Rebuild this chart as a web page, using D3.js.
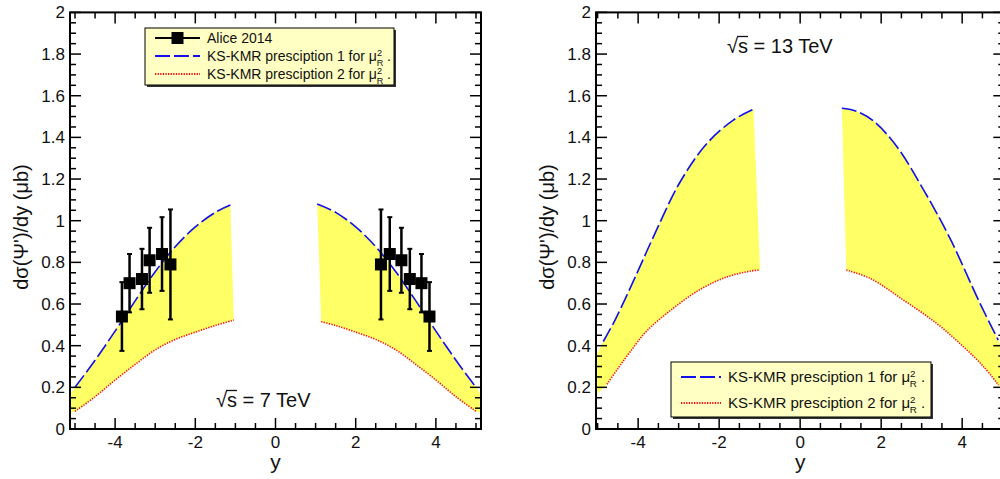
<html>
<head>
<script src="https://d3js.org/d3.v7.min.js"></script>
<style>
  body { margin: 0; background: #fff; }
  text { font-family: "Liberation Sans", Arial, Helvetica, sans-serif; fill: #111; }
</style>
</head>
<body>
<svg id="chart" width="1000" height="479"></svg>
<script>
// ---- data ----
// sqrt(s) = 7 TeV
const up7L_x = [-5.125, -5, -4.5, -4, -3.5, -3, -2.5, -2, -1.5, -1.125];
const up7L_y = [0.165, 0.2, 0.33, 0.47, 0.615, 0.755, 0.875, 0.97, 1.04, 1.075];
const lo7L_x = [-5.125, -5, -4.5, -4, -3.5, -3, -2.5, -2, -1.5, -1.04];
const lo7L_y = [0.075, 0.085, 0.155, 0.235, 0.31, 0.38, 0.43, 0.465, 0.497, 0.523];
const up7R_x = [1.04, 1.5, 2, 2.5, 3, 3.5, 4, 4.5, 5, 5.125];
const up7R_y = [1.08, 1.04, 0.97, 0.875, 0.755, 0.615, 0.47, 0.33, 0.2, 0.165];
const lo7R_x = [1.14, 1.5, 2, 2.5, 3, 3.5, 4, 4.5, 5, 5.125];
const lo7R_y = [0.515, 0.497, 0.465, 0.43, 0.38, 0.31, 0.235, 0.155, 0.085, 0.078];

// Alice 2014
const alice_x = [-3.83, -3.64, -3.33, -3.14, -2.83, -2.62, 2.63, 2.85, 3.14, 3.35, 3.64, 3.84];
const alice_y = [0.54, 0.70, 0.72, 0.81, 0.84, 0.79, 0.79, 0.84, 0.81, 0.72, 0.70, 0.54];
const alice_err = [0.165, 0.14, 0.145, 0.156, 0.177, 0.264, 0.264, 0.177, 0.156, 0.145, 0.14, 0.165];

// sqrt(s) = 13 TeV
const up13L_x = [-5.04, -4.86, -4.57, -4.03, -3.66, -2.96, -2.3, -1.65, -1.15];
const up13L_y = [0.347, 0.42, 0.523, 0.747, 0.907, 1.187, 1.371, 1.483, 1.535];
const lo13L_x = [-5.04, -4.77, -4.5, -4.2, -3.79, -3.13, -2.47, -1.81, -1.23, -0.99];
const lo13L_y = [0.165, 0.215, 0.29, 0.37, 0.47, 0.58, 0.67, 0.73, 0.758, 0.763];
const up13R_x = [1.03, 1.35, 1.8, 2.39, 3.05, 3.70, 4.44, 4.89, 5.04];
const up13R_y = [1.54, 1.528, 1.48, 1.355, 1.147, 0.915, 0.603, 0.427, 0.36];
const lo13R_x = [1.14, 1.73, 2.55, 3.37, 4.03, 4.53, 4.9, 5.04];
const lo13R_y = [0.763, 0.723, 0.619, 0.507, 0.395, 0.299, 0.211, 0.17];

const xTicks = [-4, -2, 0, 2, 4];
const xTickLabels = ["-4", "-2", "0", "2", "4"];
const yTicks = [0, 0.2, 0.4, 0.6, 0.8, 1, 1.2, 1.4, 1.6, 1.8, 2];
const yTickLabels = ["0", "0.2", "0.4", "0.6", "0.8", "1", "1.2", "1.4", "1.6", "1.8", "2"];

const legendLabels = ["Alice 2014", "KS-KMR presciption 1 for ", "KS-KMR presciption 2 for "];

// ---- drawing ----
const svg = d3.select("#chart");
const zip = (xs, ys) => xs.map((v, i) => [v, ys[i]]);

function panel(opt) {
  const x = d3.scaleLinear().domain(opt.xdom).range(opt.xrange);
  const y = d3.scaleLinear().domain([0, 2]).range([429, 12.4]);
  const g = svg.append("g");
  const x0 = opt.xrange[0], x1 = opt.xrange[1];

  const line = d3.line().x(d => x(d[0])).y(d => y(d[1])).curve(d3.curveCatmullRom.alpha(0.5));

  opt.bands.forEach(b => {
    const up = zip(b.ux, b.uy), lo = zip(b.lx, b.ly);
    g.append("path")
      .attr("d", line(up) + "L" + line(lo.slice().reverse()).slice(1) + "Z")
      .attr("fill", "#ffff66").attr("stroke", "none");
    g.append("path").attr("d", line(up.filter(d => Math.abs(d[0]) <= 5)))
      .attr("fill", "none").attr("stroke", "#1010ee").attr("stroke-width", 1.6)
      .attr("stroke-dasharray", "15,4");
    g.append("path").attr("d", line(lo.filter(d => Math.abs(d[0]) <= 5.02)))
      .attr("fill", "none").attr("stroke", "#ee1111").attr("stroke-width", 1.6)
      .attr("stroke-dasharray", "1.3,1.3");
  });

  // frame
  g.append("rect").attr("x", x0).attr("y", y(2)).attr("width", x1 - x0).attr("height", y(0) - y(2))
    .attr("fill", "none").attr("stroke", "#000").attr("stroke-width", 2);

  const tk = g.append("g").attr("stroke", "#000").attr("stroke-width", 1.5);
  d3.range(-5, 5.01, 0.5).forEach(v => {
    const L = xTicks.includes(v) ? 11 : 6;
    tk.append("line").attr("x1", x(v)).attr("x2", x(v)).attr("y1", y(0)).attr("y2", y(0) - L);
    tk.append("line").attr("x1", x(v)).attr("x2", x(v)).attr("y1", y(2)).attr("y2", y(2) + L);
  });
  d3.range(0, 2.001, 0.05).forEach(v => {
    const major = Math.abs(v * 5 - Math.round(v * 5)) < 1e-6;
    const L = major ? 11 : 6;
    tk.append("line").attr("y1", y(v)).attr("y2", y(v)).attr("x1", x0).attr("x2", x0 + L);
    tk.append("line").attr("y1", y(v)).attr("y2", y(v)).attr("x1", x1).attr("x2", x1 - L);
  });

  xTicks.forEach((v, i) => {
    g.append("text").attr("x", x(v)).attr("y", 448).attr("text-anchor", "middle")
      .attr("font-size", 17).text(xTickLabels[i]);
  });
  yTicks.forEach((v, i) => {
    g.append("text").attr("x", x0 - 5).attr("y", y(v) + 6).attr("text-anchor", "end")
      .attr("font-size", 17).text(yTickLabels[i]);
  });

  g.append("text").attr("x", x(0)).attr("y", 469).attr("text-anchor", "middle")
    .attr("font-size", 21).text("y");
  g.append("text").attr("transform", `translate(${x0 - 42},227) rotate(-90)`)
    .attr("text-anchor", "middle").attr("font-size", 20).text("dσ(Ψ')/dy (μb)");

  // sqrt(s) label
  const sq = g.append("text").attr("x", opt.sqrtPos[0]).attr("y", opt.sqrtPos[1])
    .attr("font-size", 20);
  sq.append("tspan").text("√");
  sq.append("tspan").text("s");
  sq.append("tspan").text(" = " + opt.energy);
  const rw = sq.node().getSubStringLength(0, 1);
  const sw = sq.node().getSubStringLength(1, 1);
  g.append("line").attr("x1", opt.sqrtPos[0] + rw - 1).attr("x2", opt.sqrtPos[0] + rw + sw)
    .attr("y1", opt.sqrtPos[1] - 16.5).attr("y2", opt.sqrtPos[1] - 16.5)
    .attr("stroke", "#111").attr("stroke-width", 1.3);

  return { g, x, y };
}

function muR(t, fs) {
  t.append("tspan").text("μ");
  t.append("tspan").attr("font-size", fs * 0.65).attr("dy", -5).text("2");
  t.append("tspan").attr("font-size", fs * 0.65).attr("dx", -fs * 0.38).attr("dy", 10).text("R");
  t.append("tspan").attr("dy", -5).text(" .");
}

function legend(g, box, rows, fs, items) {
  g.append("rect").attr("x", box[0] + 2).attr("y", box[1] + 2).attr("width", box[2]).attr("height", box[3])
    .attr("fill", "#333");
  g.append("rect").attr("x", box[0]).attr("y", box[1]).attr("width", box[2]).attr("height", box[3])
    .attr("fill", "#ffffc4").attr("stroke", "#000").attr("stroke-width", 1);
  items.forEach((it, i) => {
    const yy = rows[i];
    const ln = g.append("line").attr("x1", box[0] + 10).attr("x2", box[0] + it.len)
      .attr("y1", yy).attr("y2", yy).attr("stroke-width", it.w);
    if (it.kind === "alice") {
      ln.attr("stroke", "#000");
      g.append("rect").attr("x", box[0] + 10 + (it.len - 10) / 2 - 6).attr("y", yy - 6)
        .attr("width", 12).attr("height", 12).attr("fill", "#000");
    } else if (it.kind === "p1") {
      ln.attr("stroke", "#1010ee").attr("stroke-dasharray", "15,4");
    } else {
      ln.attr("stroke", "#ee1111").attr("stroke-dasharray", "1.3,1.3");
    }
    const t = g.append("text").attr("x", box[0] + it.len + 7).attr("y", yy + 5).attr("font-size", fs);
    t.append("tspan").text(it.label);
    if (it.kind !== "alice") muR(t, fs);
  });
}

// left panel: 7 TeV
const p1 = panel({
  xdom: [-5.125, 5.125], xrange: [70, 481], energy: "7 TeV", sqrtPos: [216, 407],
  bands: [
    { ux: up7L_x, uy: up7L_y, lx: lo7L_x, ly: lo7L_y },
    { ux: up7R_x, uy: up7R_y, lx: lo7R_x, ly: lo7R_y }
  ]
});

// Alice points
const pts = p1.g.append("g");
alice_x.forEach((v, i) => {
  const cx = p1.x(v), top = p1.y(alice_y[i] + alice_err[i]), bot = p1.y(alice_y[i] - alice_err[i]);
  pts.append("line").attr("x1", cx).attr("x2", cx).attr("y1", top).attr("y2", bot)
    .attr("stroke", "#000").attr("stroke-width", 2.5);
  [top, bot].forEach(yy => pts.append("line").attr("x1", cx - 2.5).attr("x2", cx + 2.5)
    .attr("y1", yy).attr("y2", yy).attr("stroke", "#000").attr("stroke-width", 2));
  pts.append("rect").attr("x", cx - 6).attr("y", p1.y(alice_y[i]) - 6)
    .attr("width", 12).attr("height", 12).attr("fill", "#000");
});

legend(p1.g, [145, 28, 249, 57], [38, 56, 74], 14, [
  { kind: "alice", label: legendLabels[0], len: 55, w: 2 },
  { kind: "p1", label: legendLabels[1], len: 55, w: 2 },
  { kind: "p2", label: legendLabels[2], len: 55, w: 2 }
]);

// right panel: 13 TeV
const p2 = panel({
  xdom: [-5.04, 5.04], xrange: [596, 1004.3], energy: "13 TeV", sqrtPos: [727, 53],
  bands: [
    { ux: up13L_x, uy: up13L_y, lx: lo13L_x, ly: lo13L_y },
    { ux: up13R_x, uy: up13R_y, lx: lo13R_x, ly: lo13R_y }
  ]
});

legend(p2.g, [671, 362, 260, 55], [377, 403], 15, [
  { kind: "p1", label: legendLabels[1], len: 50, w: 2.2 },
  { kind: "p2", label: legendLabels[2], len: 50, w: 2.2 }
]);
</script>
</body>
</html>
